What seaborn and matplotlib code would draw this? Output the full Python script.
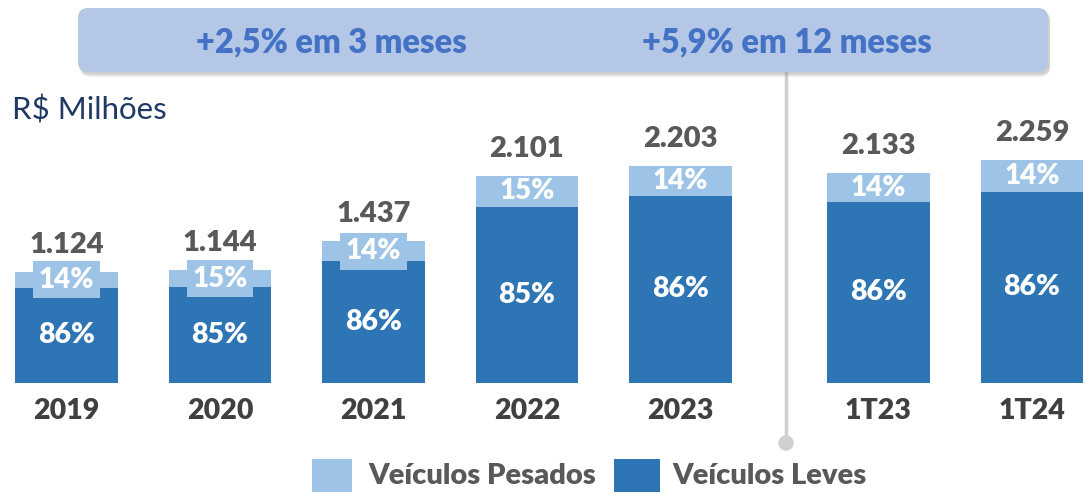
import matplotlib
matplotlib.use("Agg")
import matplotlib.pyplot as plt
import seaborn as sns
import pandas as pd
import numpy as np
from matplotlib.patches import FancyBboxPatch, Rectangle, Circle
from matplotlib.lines import Line2D
from matplotlib.transforms import IdentityTransform

# ---- data ----
categories = ["2019", "2020", "2021", "2022", "2023", "1T23", "1T24"]
totals = [1124, 1144, 1437, 2101, 2203, 2133, 2259]
pct_leves = [86, 85, 86, 85, 86, 86, 86]
pct_pesados = [14, 15, 14, 15, 14, 14, 14]
total_labels = ["1.124", "1.144", "1.437", "2.101", "2.203", "2.133", "2.259"]
banner_texts = ["+2,5% em 3 meses", "+5,9% em 12 meses"]
series_names = ["Veículos Pesados", "Veículos Leves"]
unit_label = "R$ Milhões"

# ---- style ----
sns.set_style("white")
plt.rcParams["font.family"] = ["Lato", "DejaVu Sans"]

C_DARK = "#2E75B6"
C_LIGHT = "#9DC3E6"
C_BANNER = "#B4C7E7"
C_BTEXT = "#4472C4"
C_GRAY = "#595959"
C_TICK = "#404040"
BOLD = 800

W, H = 1089, 498
fig = plt.figure(figsize=(W / 100, H / 100), dpi=100)

# x positions: gap between annual and quarterly groups
positions = np.array([0, 1, 2, 3, 4, 5.29, 6.29])
px_per_unit_x = 153.5
x0_px = 66.5
bottom_px = 382.7
px_per_val = 0.0984

ax = fig.add_axes([0, (H - bottom_px) / H, 1, bottom_px / H])
ax.set_xlim(-x0_px / px_per_unit_x, (W - x0_px) / px_per_unit_x)
ax.set_ylim(0, bottom_px / px_per_val)

leves = [t * p / 100 for t, p in zip(totals, pct_leves)]
df = pd.DataFrame({"pos": positions, "total": totals, "leves": leves})

sns.barplot(data=df, x="pos", y="total", native_scale=True, width=0.67,
            color=C_LIGHT, saturation=1, ax=ax, edgecolor="none", linewidth=0)
sns.barplot(data=df, x="pos", y="leves", native_scale=True, width=0.67,
            color=C_DARK, saturation=1, ax=ax, edgecolor="none", linewidth=0)

ax.set_axis_off()

for x, t, lv, pl, pp, tl in zip(positions, totals, leves, pct_leves, pct_pesados, total_labels):
    ax.text(x, lv / 2, f"{pl}%", ha="center", va="center", color="white",
            fontsize=20.5, fontweight=BOLD)
    seg_px = (t - lv) * px_per_val
    kw = {}
    if seg_px < 25:
        kw["bbox"] = dict(boxstyle="square,pad=0.2", facecolor=C_LIGHT, edgecolor="none")
    ax.text(x, (lv + t) / 2, f"{pp}%", ha="center", va="center", color="white",
            fontsize=20, fontweight=BOLD, **kw)
    ax.text(x, t + 27 / px_per_val, tl, ha="center", va="center", color=C_GRAY,
            fontsize=21, fontweight=BOLD)

# category labels
for x, c in zip(positions, categories):
    fig.text((x0_px + x * px_per_unit_x) / W, 1 - 411 / H, c, ha="center", va="center",
             color=C_TICK, fontsize=20.5, fontweight=BOLD)

T = IdentityTransform()

def Y(y):
    return H - y

# separator line with dot
fig.add_artist(Line2D([786, 786], [Y(72), Y(443)], transform=T, color="#D0D0D0", lw=2.5, zorder=1))
fig.add_artist(Circle((786, Y(443)), 7, transform=T, color="#D0D0D0", zorder=1))

# banner shadow
for i, a in enumerate([0.10, 0.10, 0.10, 0.12]):
    off = 4 - i
    fig.add_artist(FancyBboxPatch((78 + 2, Y(72) - off - 1), 970, 64,
                                  boxstyle="round,pad=0,rounding_size=10",
                                  transform=T, facecolor="#7F7F7F", edgecolor="none",
                                  alpha=a, zorder=2))
fig.add_artist(FancyBboxPatch((78, Y(72)), 970, 64,
                              boxstyle="round,pad=0,rounding_size=10",
                              transform=T, facecolor=C_BANNER, edgecolor="none", zorder=3))
fig.text(331 / W, 1 - 42 / H, banner_texts[0], ha="center", va="center",
         color=C_BTEXT, fontsize=23.5, fontweight=BOLD, zorder=4)
fig.text(787 / W, 1 - 42 / H, banner_texts[1], ha="center", va="center",
         color=C_BTEXT, fontsize=23.5, fontweight=BOLD, zorder=4)

# unit label
fig.text(12 / W, 1 - 110 / H, unit_label, ha="left", va="center", color="#1F3864",
         fontsize=22.5)

# legend
fig.add_artist(Rectangle((312, Y(492)), 40, 33, transform=T, facecolor=C_LIGHT, edgecolor="none"))
fig.text(368 / W, 1 - 476 / H, series_names[0], ha="left", va="center", color=C_GRAY,
         fontsize=21, fontweight=BOLD)
fig.add_artist(Rectangle((614, Y(492)), 46, 33, transform=T, facecolor=C_DARK, edgecolor="none"))
fig.text(672 / W, 1 - 476 / H, series_names[1], ha="left", va="center", color=C_GRAY,
         fontsize=21, fontweight=BOLD)

fig.savefig("out.png", dpi=100)
